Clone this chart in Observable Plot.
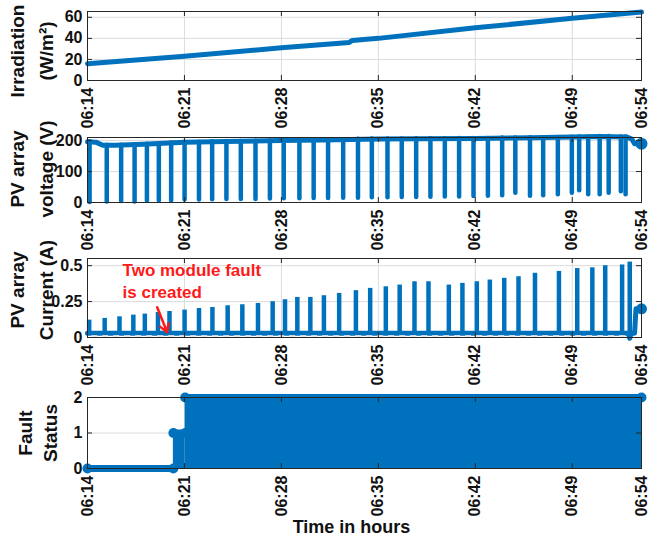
<!DOCTYPE html>
<html><head><meta charset="utf-8">
<script src="https://cdn.jsdelivr.net/npm/d3@7"></script>
<script src="https://cdn.jsdelivr.net/npm/@observablehq/plot@0.6"></script>
<style>
body{margin:0;background:#fff;}
#chart svg{display:block;}
</style></head><body><div id="chart"></div>
<script>
// ---------- data (times are minutes after 06:00) ----------
const xTickLabels = ["06:14","06:21","06:28","06:35","06:42","06:49","06:54"];

const irrTimes  = [14, 21, 28, 32.9, 33.1, 35, 42, 49, 54];
const irrValues = [16, 23, 31, 36, 38, 40, 50, 59, 65];

const vBaseTimes  = [14.0, 14.6, 15.1, 16, 18, 21, 24, 28, 31, 35, 38, 42, 46, 49, 51, 52.9, 53.3, 53.5, 54];
const vBaseValues = [196, 195, 185, 185, 188, 195, 197, 200, 202, 205, 206, 207, 209, 212, 213, 212, 205, 190, 190];
const vDipTimes   = [14.15, 15.39, 16.43, 17.4, 18.29, 19.15, 20.04, 21.01, 22.05, 23.0, 24.03, 25.07, 26.13, 27.17, 28.17, 29.3, 30.33, 31.37, 32.46, 33.53, 34.53, 35.66, 36.69, 37.73, 38.76, 39.8, 40.83, 41.87, 42.91, 43.94, 44.89, 45.95, 46.9, 47.96, 48.97, 49.5, 50.15, 50.98, 51.63, 52.51, 52.85];
const vDipBottoms = [0, 2, 3, 2, 4, 5, 6, 8, 8, 9, 10, 10, 10, 11, 12, 12, 13, 13, 14, 14, 15, 15, 16, 16, 17, 18, 18, 19, 20, 22, 30, 20, 22, 25, 30, 38, 25, 25, 30, 35, 25];
const vDipTops    = [196, 185, 185, 186, 188, 190, 192, 195, 195, 196, 197, 197, 198, 199, 200, 201, 202, 202, 203, 204, 205, 205, 205, 206, 206, 206, 207, 207, 207, 208, 208, 209, 209, 210, 211, 212, 212, 213, 213, 212, 212];
const vEndTime = 54, vEndValue = 190;

const cBaseTimes  = [14, 53.05, 53.15, 53.25, 53.5, 53.6, 54];
const cBaseValues = [0.03, 0.03, -0.005, 0.03, 0.03, 0.2, 0.2];
const cGhostValue = 0.012;
const cSpikeTimes = [14.12, 15.24, 16.31, 17.31, 18.14, 19.09, 19.92, 21.01, 22.05, 23.02, 24.12, 25.18, 26.31, 27.37, 28.26, 29.15, 30.09, 31.07, 32.17, 33.38, 34.41, 35.54, 36.54, 37.61, 38.62, 40.09, 41.07, 42.11, 43.05, 44.09, 45.12, 46.31, 48.04, 49.36, 50.45, 51.38, 52.6, 53.15];
const cSpikeTops  = [0.121, 0.133, 0.144, 0.156, 0.163, 0.174, 0.181, 0.191, 0.202, 0.209, 0.221, 0.228, 0.237, 0.249, 0.263, 0.279, 0.279, 0.291, 0.307, 0.326, 0.342, 0.353, 0.365, 0.388, 0.388, 0.365, 0.377, 0.388, 0.40, 0.412, 0.423, 0.447, 0.46, 0.48, 0.485, 0.50, 0.505, 0.525];
const cEndTime = 54, cEndValue = 0.2;
const annotText = "Two module fault\nis created";
const annotTime = 16.53, annotValue = 0.535;
const arrowFrom = [19.03, 0.211], arrowTo = [19.75, 0.037];

const faultStart = [14, 20.2, 21.05];
const faultEnd   = [20.2, 21.05, 54];
const faultLevel = [0, 1, 2];

const titles = ["Irradiation\n(W/m\u00B2)", "PV array\nvoltage (V)", "PV array\nCurrent (A)", "Fault\nStatus"];
const yTicks = [[0, 20, 40, 60], [0, 100, 200], [0, 0.25, 0.5], [0, 1, 2]];
const xTitle = "Time in hours";

// ---------- helpers ----------
const BLUE = "#0072BD", GRID = "#dcdcdc", AX = "#262626", TXT = "#111";
const FONT = "'Liberation Sans', Arial, Helvetica, sans-serif";
const W = 651, ML = 87, MR = 10;
const base = Date.UTC(1900, 0, 1, 6, 0, 0);
const T = m => new Date(base + m * 60000);
const parse = d3.utcParse("%H:%M");
const xTickDates = xTickLabels.map(parse);
const xDomain = [xTickDates[0], xTickDates[xTickDates.length - 1]];

function panel(o) {
  const innerH = o.height - o.mt - o.mb;
  const innerW = W - ML - MR;
  return Plot.plot({
    width: W, height: o.height,
    marginLeft: ML, marginRight: MR, marginTop: o.mt, marginBottom: o.mb,
    style: {fontFamily: FONT, fontWeight: "bold", color: TXT, background: "white", overflow: "visible"},
    x: {type: "utc", domain: xDomain},
    y: {domain: o.yDomain},
    marks: [
      Plot.gridX(xTickDates, {stroke: GRID, strokeOpacity: 1}),
      Plot.gridY(o.yTicks, {stroke: GRID, strokeOpacity: 1}),
      ...o.marks,
      Plot.ruleX(xTickDates, {insetTop: innerH - 5, stroke: AX}),
      Plot.ruleX(xTickDates, {insetBottom: innerH - 5, stroke: AX}),
      Plot.ruleY(o.yTicks, {insetRight: innerW - 5, stroke: AX}),
      Plot.ruleY(o.yTicks, {insetLeft: innerW - 5, stroke: AX}),
      Plot.frame({stroke: AX}),
      Plot.axisX(xTickDates, {tickFormat: d3.utcFormat("%H:%M"), tickRotate: -90, tickSize: 0, tickPadding: 7, fontSize: 16, fontWeight: "bold", label: null}),
      Plot.axisY(o.yTicks, {tickFormat: d => String(d), tickSize: 0, tickPadding: 5, fontSize: 16, fontWeight: "bold", label: null}),
      Plot.text([o.title], {text: d => d, frameAnchor: "left", textAnchor: "middle", lineAnchor: "middle", rotate: -90, dx: o.tdx, dy: o.tdy, fontSize: 19, fontWeight: "bold", lineHeight: o.lh, fill: TXT}),
      ...(o.after || [])
    ]
  });
}

const irrIdx = d3.range(irrTimes.length);
const vbIdx = d3.range(vBaseTimes.length);
const vdIdx = d3.range(vDipTimes.length);
const cbIdx = d3.range(cBaseTimes.length);
const csIdx = d3.range(cSpikeTimes.length);
const fIdx = d3.range(faultLevel.length);

const p1 = panel({
  height: 127, mt: 11, mb: 47, yDomain: [0, 65.5], yTicks: yTicks[0], title: titles[0], tdx: -58, tdy: 5, lh: 1.48,
  marks: [
    Plot.line(irrIdx, {x: i => T(irrTimes[i]), y: i => irrValues[i], stroke: BLUE, strokeWidth: 5})
  ]
});

const p2 = panel({
  height: 123, mt: 10, mb: 48, yDomain: [0, 210], yTicks: yTicks[1], title: titles[1], tdx: -58, tdy: -1, lh: 1.48,
  marks: [
    Plot.ruleX(vdIdx, {x: i => T(vDipTimes[i]), y1: i => vDipBottoms[i], y2: i => vDipTops[i], stroke: BLUE, strokeWidth: 4.5, strokeLinecap: "round"}),
    Plot.line(vbIdx, {x: i => T(vBaseTimes[i]), y: i => vBaseValues[i], stroke: BLUE, strokeWidth: 5}),
    Plot.dot([0], {x: () => T(vEndTime), y: () => vEndValue, r: 6, fill: BLUE})
  ]
});

const p3 = panel({
  height: 132, mt: 8, mb: 45, yDomain: [0, 0.55], yTicks: yTicks[2], title: titles[2], tdx: -58, tdy: -8, lh: 1.48,
  marks: [
    Plot.ruleX(csIdx, {x: i => T(cSpikeTimes[i]), y1: 0.03, y2: i => cSpikeTops[i], stroke: BLUE, strokeWidth: 4.5}),
    Plot.line(cbIdx, {x: i => T(cBaseTimes[i]), y: i => cBaseValues[i], stroke: BLUE, strokeWidth: 5}),
    Plot.ruleY([cGhostValue], {x1: T(14.3), x2: T(53), stroke: "#cfd8e3", strokeWidth: 1.5, strokeDasharray: "6,5"}),
    Plot.dot([0], {x: () => T(cEndTime), y: () => cEndValue, r: 5.5, fill: BLUE})
  ],
  after: [
    Plot.text([annotText], {text: d => d, x: () => T(annotTime), y: () => annotValue, textAnchor: "start", lineAnchor: "top", fill: "#ff1a1a", fontSize: 17, fontWeight: "bold", lineHeight: 1.3}),
    Plot.arrow([0], {x1: () => T(arrowFrom[0]), y1: () => arrowFrom[1], x2: () => T(arrowTo[0]), y2: () => arrowTo[1], stroke: "#ff1a1a", strokeWidth: 2.5, headLength: 9})
  ]
});

const p4 = panel({
  height: 158, mt: 15, mb: 72, yDomain: [0, 2], yTicks: yTicks[3], title: titles[3], tdx: -51, tdy: 0, lh: 1.3,
  marks: [
    Plot.rect(fIdx, {x1: i => T(faultStart[i]), x2: i => T(faultEnd[i]), y1: 0, y2: i => faultLevel[i], fill: BLUE}),
    Plot.ruleY(fIdx, {y: i => faultLevel[i], x1: i => T(faultStart[i]), x2: i => T(faultEnd[i]), stroke: BLUE, strokeWidth: 7, strokeLinecap: "round"}),
    Plot.dot(fIdx, {x: i => T(faultStart[i]), y: i => faultLevel[i], r: 5, fill: BLUE}),
    Plot.dot(fIdx, {x: i => T(faultEnd[i]), y: i => faultLevel[i], r: 5, fill: BLUE})
  ],
  after: [
    Plot.text([xTitle], {text: d => d, frameAnchor: "bottom", dy: 64, dx: -13, fontSize: 18, fontWeight: "bold", fill: TXT})
  ]
});

const chart = document.getElementById("chart");
[p1, p2, p3, p4].forEach(p => chart.appendChild(p));
</script>
</body></html>
